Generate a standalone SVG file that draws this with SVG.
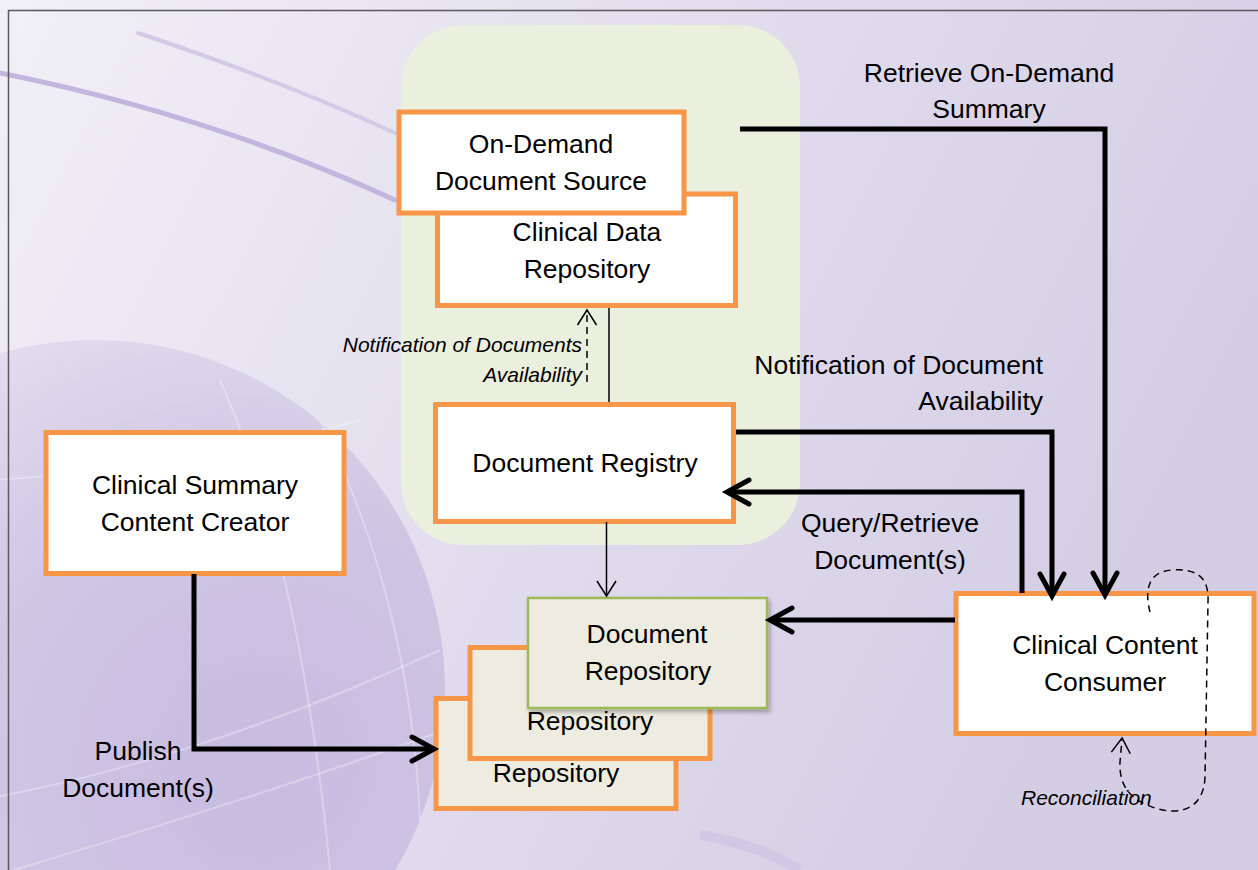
<svg xmlns="http://www.w3.org/2000/svg" width="1258" height="870" viewBox="0 0 1258 870">
  <defs>
    <linearGradient id="bg" x1="0" y1="0" x2="1" y2="0.35">
      <stop offset="0" stop-color="#f1eff7"/>
      <stop offset="0.35" stop-color="#e7e4f1"/>
      <stop offset="0.7" stop-color="#dcd7ea"/>
      <stop offset="1" stop-color="#d4cee5"/>
    </linearGradient>
    <radialGradient id="globe" cx="0.72" cy="0.6" r="0.7">
      <stop offset="0" stop-color="#c2b4dd"/>
      <stop offset="0.55" stop-color="#cbc1e2"/>
      <stop offset="1" stop-color="#e0dbee"/>
    </radialGradient>
    <filter id="shadow" x="-10%" y="-10%" width="130%" height="130%">
      <feDropShadow dx="2" dy="3" stdDeviation="2" flood-color="#000" flood-opacity="0.3"/>
    </filter>
    <marker id="arrowThick" markerUnits="userSpaceOnUse" viewBox="-30 -20 36 40" markerWidth="36" markerHeight="40" refX="-3" refY="0" orient="auto">
      <path d="M-22,-12 L0,0 L-22,12" fill="none" stroke="#000" stroke-width="5" stroke-linecap="round" stroke-linejoin="miter"/>
    </marker>
    <marker id="arrowThin" markerUnits="userSpaceOnUse" viewBox="-20 -14 24 28" markerWidth="24" markerHeight="28" refX="-1" refY="0" orient="auto">
      <path d="M-15,-9.5 L0,0 L-15,9.5" fill="none" stroke="#000" stroke-width="1.5" stroke-dasharray="none"/>
    </marker>
    <style>
      .box { fill: #ffffff; stroke: #f79646; stroke-width: 5; }
      .repo { fill: #eeece1; stroke: #f79646; stroke-width: 5; }
      .repoFront { fill: #eeece1; stroke: #9bbb59; stroke-width: 2.5; }
      .t { font-family: "Liberation Sans", Arial, sans-serif; font-size: 26.5px; fill: #000; }
      .c { text-anchor: middle; }
      .e { text-anchor: end; }
      .it { font-style: italic; font-size: 21px; }
      .conn { fill: none; stroke: #000; stroke-width: 5; stroke-linejoin: miter; }
      .thin { fill: none; stroke: #000; stroke-width: 1.5; }
      .dash { stroke-dasharray: 7 5; }
    </style>
  </defs>

  <g id="background">
    <rect x="0" y="0" width="1258" height="870" fill="url(#bg)"/>
    <circle cx="95" cy="690" r="350" fill="url(#globe)" opacity="0.85"/>
    <g fill="none" stroke="#ffffff" stroke-opacity="0.3" stroke-width="2">
      <path d="M-20,800 Q200,760 440,650"/>
      <path d="M-20,880 Q250,800 445,730"/>
      <path d="M220,380 Q300,560 330,870"/>
      <path d="M320,420 Q410,600 420,820"/>
      <path d="M-10,480 Q180,470 360,420"/>
    </g>
    <path d="M0,73 Q210,115 395,200" fill="none" stroke="#c3b6de" stroke-width="5" stroke-linecap="round"/>
    <path d="M138,33 Q280,80 395,133" fill="none" stroke="#d2cae6" stroke-width="4" stroke-linecap="round"/>
    <path d="M700,835 Q760,845 800,870" fill="none" stroke="#d0c8e4" stroke-width="10"/>
    <rect x="8.5" y="10.5" width="1300" height="900" fill="none" stroke="#5a5a5a" stroke-width="1.5"/>
  </g>

  <g id="container">
    <rect x="401" y="25" width="399" height="520" rx="62" ry="62" fill="#ebefdd"/>
  </g>

  <g id="clinical-data-repository">
    <rect class="box" x="437.5" y="194" width="298" height="111.5"/>
    <text class="t c" x="587" y="241">Clinical Data</text>
    <text class="t c" x="587" y="278">Repository</text>
  </g>

  <g id="on-demand-document-source">
    <rect class="box" x="399" y="112" width="285" height="101"/>
    <text class="t c" x="541" y="153">On-Demand</text>
    <text class="t c" x="541" y="190">Document Source</text>
  </g>

  <g id="document-registry">
    <rect class="box" x="435.5" y="404.5" width="298" height="117"/>
    <text class="t c" x="585" y="472">Document Registry</text>
  </g>

  <g id="clinical-summary-content-creator">
    <rect class="box" x="46" y="432.5" width="298" height="141"/>
    <text class="t c" x="195" y="494">Clinical Summary</text>
    <text class="t c" x="195" y="531">Content Creator</text>
  </g>

  <g id="document-repository-back">
    <rect class="repo" x="436" y="698.5" width="240" height="110"/>
    <text class="t c" x="556" y="782">Repository</text>
  </g>

  <g id="document-repository-middle">
    <rect class="repo" x="470" y="647.5" width="240" height="111"/>
    <text class="t c" x="590" y="730">Repository</text>
  </g>

  <g id="document-repository">
    <rect class="repoFront" x="528" y="598" width="239" height="110" filter="url(#shadow)"/>
    <text class="t c" x="647" y="643">Document</text>
    <text class="t c" x="648" y="680">Repository</text>
  </g>

  <g id="clinical-content-consumer">
    <rect class="box" x="956" y="593.5" width="298" height="140"/>
    <text class="t c" x="1105" y="654">Clinical Content</text>
    <text class="t c" x="1105" y="691">Consumer</text>
  </g>

  <g id="connectors">
    <path class="conn" d="M740,129 H1105 V592" marker-end="url(#arrowThick)"/>
    <path class="conn" d="M736,432 H1052 V593" marker-end="url(#arrowThick)"/>
    <path class="conn" d="M1022,593 V492 H730" marker-end="url(#arrowThick)"/>
    <path class="conn" d="M955,620 H773" marker-end="url(#arrowThick)"/>
    <path class="conn" d="M194,574 V749 H431" marker-end="url(#arrowThick)"/>
    <path class="thin" d="M609,308 V402"/>
    <path class="thin dash" d="M587,382 V311" marker-end="url(#arrowThin)"/>
    <path class="thin" d="M606.5,522 V595" marker-end="url(#arrowThin)"/>
    <path class="thin dash" d="M1150,612 C1146,596 1144,572 1172,570 C1200,568 1209,580 1208,602 L1205,778 C1203,812 1176,815 1155,808 C1130,800 1119,786 1120,762 L1122,739" marker-end="url(#arrowThin)"/>
  </g>

  <g id="labels">
    <text class="t c" x="989" y="82">Retrieve On-Demand</text>
    <text class="t c" x="989" y="118">Summary</text>
    <text class="t e" x="1043" y="374">Notification of Document</text>
    <text class="t e" x="1043" y="410">Availability</text>
    <text class="t c" x="890" y="532">Query/Retrieve</text>
    <text class="t c" x="890" y="569">Document(s)</text>
    <text class="t c" x="138" y="760">Publish</text>
    <text class="t c" x="138" y="797">Document(s)</text>
    <text class="t e it" x="582" y="352">Notification of Documents</text>
    <text class="t e it" x="582" y="382">Availability</text>
    <text class="t it" x="1021" y="805">Reconciliation</text>
  </g>
</svg>
